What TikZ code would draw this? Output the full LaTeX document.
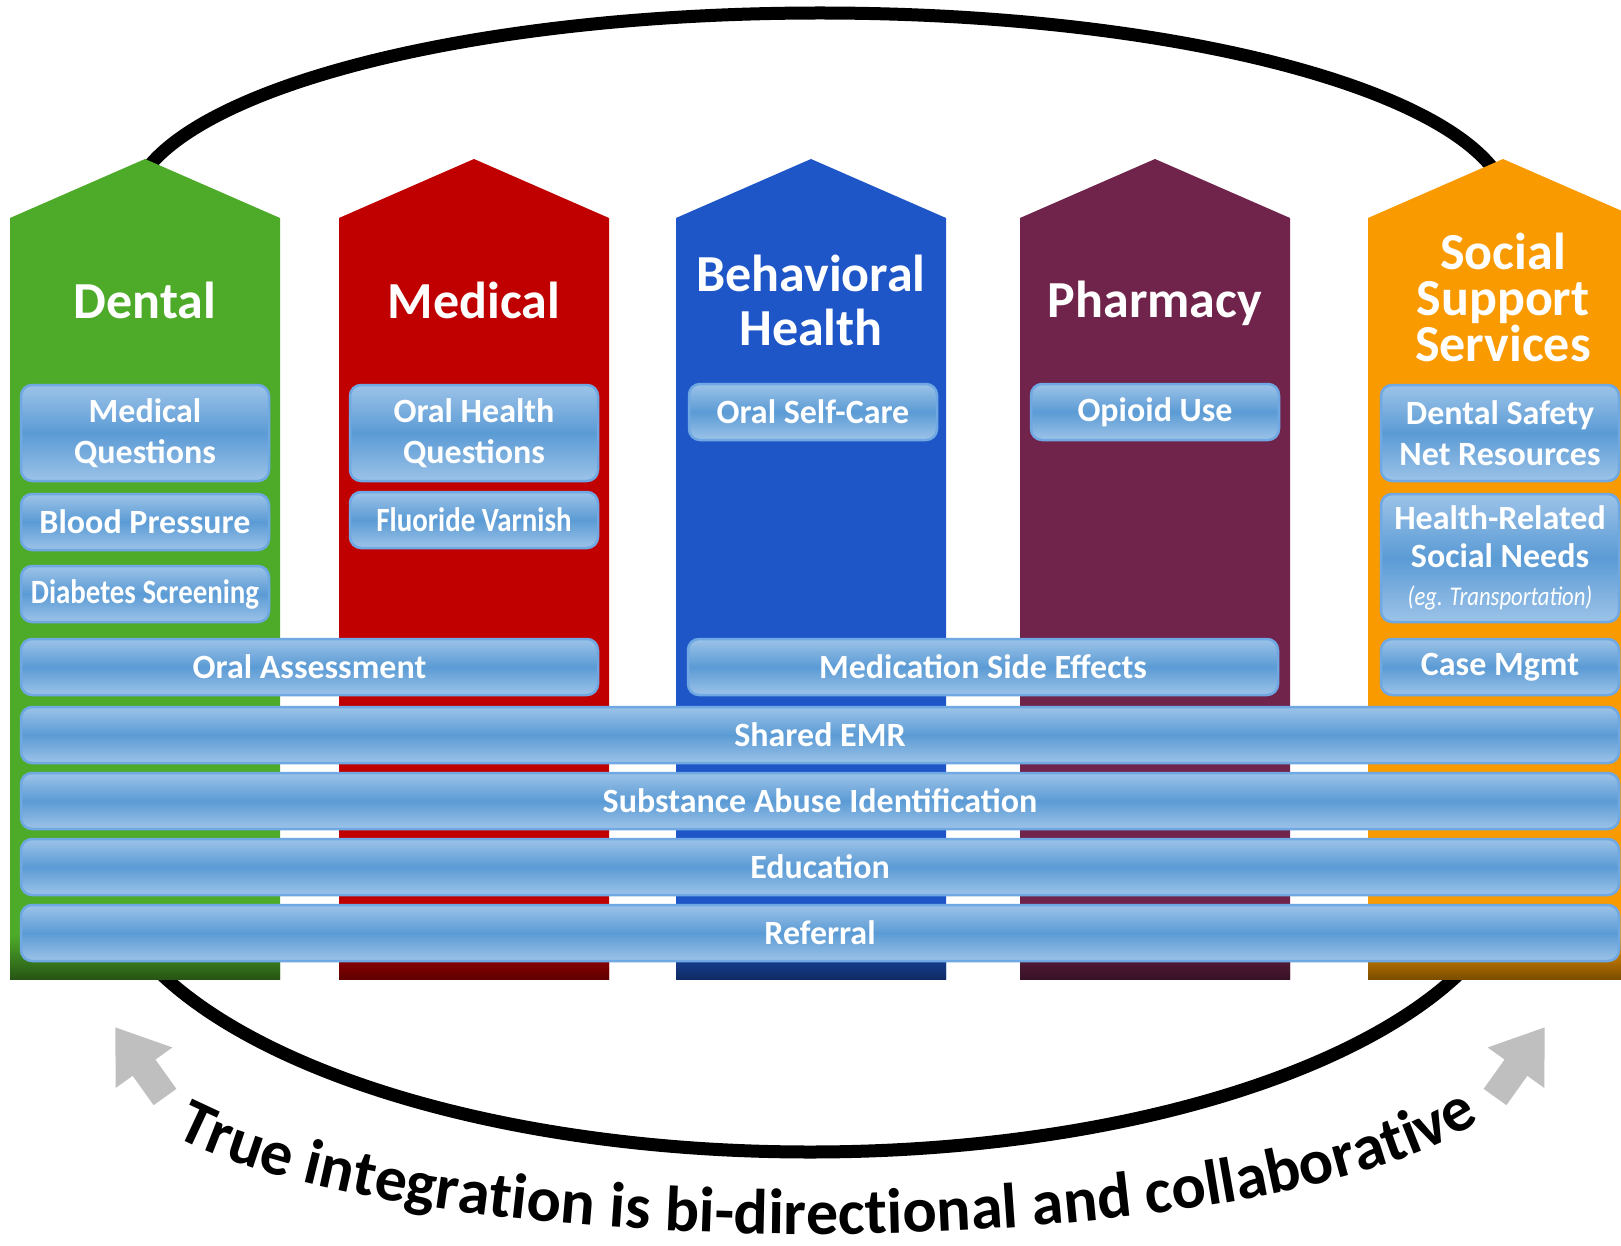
\documentclass[tikz,border=0pt]{standalone}
\usepackage{fontspec}
\usepackage{graphicx}
\setmainfont{Carlito}
\usetikzlibrary{arrows.meta,decorations.text}
\definecolor{dentalgreen}{HTML}{4EAB2A}
\definecolor{medicalred}{HTML}{C00000}
\definecolor{behavblue}{HTML}{1F56C7}
\definecolor{pharmplum}{HTML}{70244B}
\definecolor{socialorange}{HTML}{F99A00}
\definecolor{barmid}{HTML}{5B9BD5}
\definecolor{barlight}{HTML}{9CC3E8}
\definecolor{baredge}{HTML}{6FA8E2}
\definecolor{arrowgray}{HTML}{BFBFBF}
\newcommand{\squeeze}[2]{\scalebox{#1}[1]{#2}}
\tikzset{
  ring/.style={draw=black, line width=13pt},
  pillartitle/.style={text=white, font=\bfseries\fontsize{52}{54}\selectfont, align=center, inner sep=0pt},
  panel/.style={draw=baredge, line width=2.5pt, rounded corners=11pt, top color=barlight, bottom color=barlight, middle color=barmid, text=white, font=\bfseries\fontsize{34}{41}\selectfont, align=center, inner sep=0pt, minimum height=56pt},
  cell/.style={panel, minimum width=248pt},
  gray arrow/.style={draw=arrowgray, line width=28pt, -{Triangle[length=50pt,width=66pt]}},
}

\begin{document}
\begin{tikzpicture}[x=1pt, y=-1pt]
\clip (0,0) rectangle (1621,1246);
\fill[white] (0,0) rectangle (1621,1246);

% the loop behind the pillars
\draw[ring] (130,213) arc[start angle=180, end angle=360, x radius=690, y radius=200]
  -- (1520,852) arc[start angle=0, end angle=180, x radius=710, y radius=300] -- cycle;

% pillars, darker towards the foot
\foreach \cx/\col in {145/dentalgreen, 474/medicalred, 811/behavblue, 1155/pharmplum, 1503/socialorange}{
  \fill[\col] (\cx-135,979) -- (\cx-135,218) -- (\cx,159) -- (\cx+135,218) -- (\cx+135,979) -- cycle;
  \shade[top color=\col, bottom color=\col!50!black] (\cx-135,935) rectangle (\cx+135,979);
}

\node[pillartitle] (dental) at (145,300) {Dental};
\node[pillartitle] (medical) at (474,300) {Medical};
\node[pillartitle] (behav) at (811,300) {Behavioral\\Health};
\node[pillartitle] (pharm) at (1155,303) {Pharmacy};
\node[pillartitle, font=\bfseries\fontsize{52}{46}\selectfont] (social) at (1503,297) {Social\\Support\\Services};

% column boxes
\node[cell, minimum height=96pt] (medq) at (145,433) {Medical\\Questions};
\node[cell] (bp) at (145,522) {Blood Pressure};
\node[cell] (diab) at (145,594) {\squeeze{0.85}{Diabetes Screening}};
\node[cell, minimum height=96pt] (ohq) at (474,433) {Oral Health\\Questions};
\node[cell] (fluor) at (474,520) {\squeeze{0.85}{Fluoride Varnish}};
\node[cell] (selfcare) at (813,412) {Oral Self-Care};
\node[cell] (opioid) at (1155,412) {Opioid Use};
\node[cell, minimum width=238pt, minimum height=96pt] (safetynet) at (1500,433) {Dental Safety\\Net Resources};
\node[cell, minimum width=238pt, minimum height=128pt, font=\bfseries\fontsize{34}{38}\selectfont] (hrsn) at (1500,558)
  {Health-Related\\Social Needs\\{\mdseries\itshape\fontsize{27}{36}\selectfont\squeeze{0.84}{(eg. Transportation)}}};

% boxes shared by two columns, then the full-width bars
\node[panel, minimum width=577pt] (oralassess) at (309.5,667) {Oral Assessment};
\node[panel, minimum width=590pt] (medside) at (983,667) {Medication Side Effects};
\node[panel, minimum width=238pt] (casemgmt) at (1500,667) {Case Mgmt};
\foreach \y/\name/\txt in {735/emr/Shared EMR, 801/subst/Substance Abuse Identification, 867/edu/Education, 933/referral/Referral}
  \node[panel, minimum width=1598pt] (\name) at (820,\y) {\txt};

% two-way arrows and the caption along the bottom
\coordinate (ltail) at (165,1097);
\coordinate (ltip) at (115,1027);
\coordinate (rtail) at (1495,1097);
\coordinate (rtip) at (1545,1027);
\draw[gray arrow] (ltail) -- (ltip);
\draw[gray arrow] (rtail) -- (rtip);
\path[decorate, decoration={text along path, text align=center,
  text={|\bfseries\fontsize{64}{64}\selectfont|True integration is bi-directional and collaborative}}]
  (168,1133) arc[start angle=157, end angle=17, x radius=702, y radius=166];
\end{tikzpicture}
\end{document}
